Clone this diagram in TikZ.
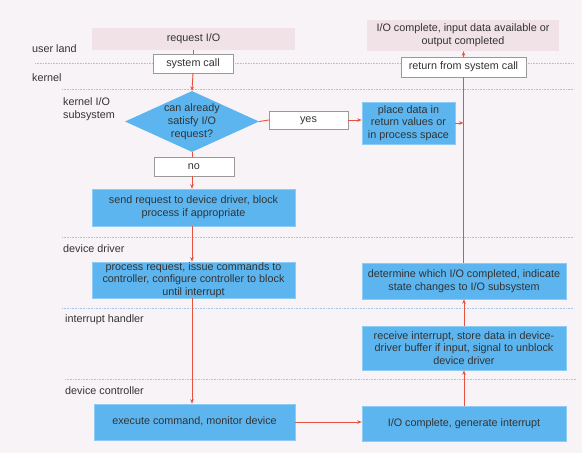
\documentclass[tikz,border=0pt]{standalone}
\usepackage{fontspec}
\setmainfont{Liberation Sans}
\usetikzlibrary{shapes.geometric,arrows.meta}
\definecolor{bg}{HTML}{F8F3F7}
\definecolor{pinkbox}{HTML}{F0E2E6}
\definecolor{bluebox}{HTML}{5CB5EF}
\definecolor{blueedge}{HTML}{8CCBF3}
\definecolor{redline}{HTML}{E5533F}
\definecolor{txt}{HTML}{333333}
\definecolor{dotc}{HTML}{A8C4E0}
\tikzset{
  every node/.style={font=\fontsize{10.8}{12.7}\selectfont, text=txt, inner sep=0pt, align=center},
  oneline/.style={text height=7.7pt, text depth=2.3pt},
  pinkb/.style={fill=pinkbox, draw=none},
  whiteb/.style={fill=white, draw=gray!80},
  blueb/.style={fill=bluebox, draw=blueedge, line width=0.6pt},
  lab/.style={anchor=west},
  flow/.style={draw=redline, line width=0.9pt},
  arr/.style={flow, -{Stealth[length=4.5pt,width=3.5pt]}},
  sep/.style={draw=dotc, densely dotted, line width=0.6pt},
}
\begin{document}
\begin{tikzpicture}[x=1pt,y=-1pt]
\fill[bg] (0,0) rectangle (582,453);
\useasboundingbox (0,0) rectangle (582,453);
% separators
\coordinate (s1a) at (35,63);  \coordinate (s1b) at (574,63);
\coordinate (s2a) at (62,89);  \coordinate (s2b) at (574,89);
\coordinate (s3a) at (62,237); \coordinate (s3b) at (574,237);
\coordinate (s4a) at (62,308); \coordinate (s4b) at (574,308);
\coordinate (s5a) at (65,379); \coordinate (s5b) at (576,379);
\draw[sep] (s1a) -- (s1b);
\draw[sep] (s2a) -- (s2b);
\draw[sep] (s3a) -- (s3b);
\draw[sep] (s4a) -- (s4b);
\draw[sep] (s5a) -- (s5b);
% lane labels
\node[lab] (l1) at (32,49) {user land};
\node[lab] (l2) at (32,78) {kernel};
\node[lab,align=left] (l3) at (63,109) {kernel I/O\\subsystem};
\node[lab] (l4) at (63,249) {device driver};
\node[lab] (l5) at (65,320) {interrupt handler};
\node[lab] (l6) at (65,391) {device controller};
% left column
\node[pinkb, oneline, minimum width=203, minimum height=22] (req) at (193.5,39) {request I/O};
\node[whiteb, oneline, minimum width=80, minimum height=19] (sys) at (193,63.5) {system call};
\node[diamond, fill=bluebox, draw=none, minimum width=134, minimum height=61, inner sep=0pt] (dia) at (192,121.5) {};
\node[font=\fontsize{10.8}{13.2}\selectfont] (diat) at (192,121.5) {can already\\satisfy I/O\\request?};
\node[whiteb, oneline, minimum width=80, minimum height=19] (no) at (194,166.5) {no};
\node[blueb, minimum width=203, minimum height=37] (send) at (193.5,207.5) {send request to device driver, block\\process if appropriate};
\node[blueb, minimum width=203, minimum height=36] (proc) at (193.5,280) {process request, issue commands to\\controller, configure controller to block\\until interrupt};
\node[blueb, oneline, minimum width=201, minimum height=36] (exec) at (194.5,422) {execute command, monitor device};
% middle
\node[whiteb, oneline, minimum width=79, minimum height=18] (yes) at (308.5,120) {yes};
% right column
\node[pinkb, minimum width=192, minimum height=31] (done) at (463,35.5) {I/O complete, input data available or\\output completed};
\node[whiteb, oneline, minimum width=125, minimum height=20] (ret) at (463.5,67) {return from system call};
\node[blueb, minimum width=93, minimum height=42] (place) at (408.5,123) {place data in\\return values or\\in process space};
\node[blueb, minimum width=204, minimum height=36] (det) at (464,281) {determine which I/O completed, indicate\\state changes to I/O subsystem};
\node[blueb, minimum width=204, minimum height=44] (recv) at (464,348) {receive interrupt, store data in device-\\driver buffer if input, signal to unblock\\device driver};
\node[blueb, oneline, minimum width=204, minimum height=35] (gen) at (464,423.5) {I/O complete, generate interrupt};
% flow left
\draw[flow] (req.south -| sys.north) -- (sys.north);
\draw[arr] (sys.south) -- (dia.north);
\draw[flow] (dia.south) -- (no.north -| dia.south);
\draw[arr] (no.south -| dia.south) -- (send.north -| dia.south);
\draw[arr] (send.south -| dia.south) -- (proc.north -| dia.south);
\draw[arr] (proc.south -| dia.south) -- (exec.north -| dia.south);
% yes branch
\draw[flow] (dia.east) -- (yes.west);
\draw[arr] (yes.east) -- (place.west |- yes.east);
\coordinate (join) at (463.5,123);
\draw[arr] (place.east) -- (join);
% bottom and right
\draw[arr] (exec.east) -- (gen.west |- exec.east);
\draw[arr] (gen.north) -- (recv.south);
\draw[arr] (recv.north) -- (det.south);
\draw[flow] (det.north -| ret.south) -- (ret.south);
\draw[arr] (ret.north) -- (done.south -| ret.north);
\end{tikzpicture}
\end{document}
